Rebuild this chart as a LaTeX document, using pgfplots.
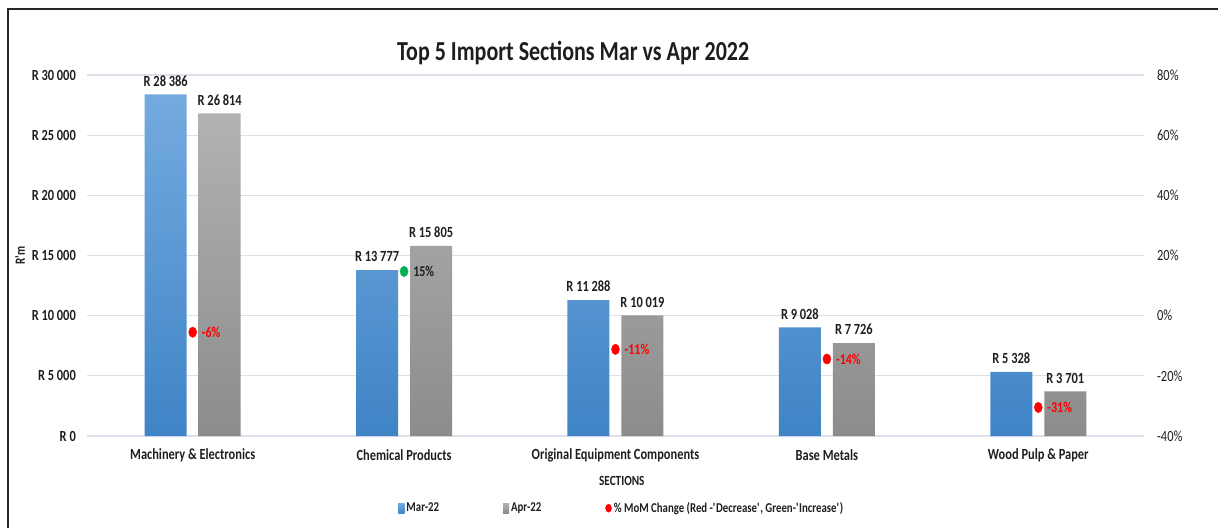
\documentclass[border=0pt]{standalone}
\usepackage{fontspec}
\setmainfont{Carlito}[FakeStretch=0.8]
\usepackage{pgfplots}
\pgfplotsset{compat=1.18}
\definecolor{marTop}{HTML}{74AADF}
\definecolor{marBot}{HTML}{3F84C6}
\definecolor{aprTop}{HTML}{B2B2B2}
\definecolor{aprBot}{HTML}{8C8C8C}
\definecolor{gridc}{HTML}{DCE1E9}
\definecolor{ink}{HTML}{1E1E1E}
\definecolor{upgreen}{HTML}{00B050}
\newcommand\fs[1]{\fontsize{#1}{#1}\selectfont}

\pgfplotsset{
  frame/.style={
    at={(0,0)}, anchor=south west, scale only axis,
    width=1057pt, height=361pt,
    xmin=-0.5, xmax=4.5,
  }
}

\begin{document}
\begin{tikzpicture}
\useasboundingbox (-87pt,-92pt) rectangle (1131pt,436pt);

\begin{axis}[frame, clip=false,
  ymin=0, ymax=30000, scaled y ticks=false,
  ybar=12pt, bar width=42pt,
  axis line style={draw=none}, major tick length=0pt,
  ymajorgrids, grid style={gridc, line width=1.2pt},
  xtick={0,1,2,3,4},
  xticklabels={Machinery \& Electronics, Chemical Products, Original Equipment Components, Base Metals, Wood Pulp \& Paper},
  ytick={0,5000,10000,15000,20000,25000,30000},
  yticklabels={R 0, R 5 000, R 10 000, R 15 000, R 20 000, R 25 000, R 30 000},
  tick label style={font=\fs{15.5}\bfseries, text=ink},
  yticklabel style={anchor=east, inner sep=0pt, xshift=-11pt},
  xticklabel style={anchor=center, inner sep=0pt, yshift=-19pt},
  ylabel={R\textquotesingle m}, xlabel={SECTIONS},
  every axis y label/.append style={at={(axis description cs:-0.0634,0.5)}, anchor=center, font=\fs{14}\bfseries, text=ink},
  every axis x label/.append style={at={(axis description cs:0.506,-0.125)}, anchor=center, font=\fs{14}\bfseries, text=ink},
  nodes near coords, point meta=explicit symbolic,
  nodes near coords style={font=\fs{15.5}\bfseries, text=ink, anchor=south, inner sep=0pt, yshift=8pt},
  legend style={at={(axis description cs:0.506,-0.2)}, anchor=center, draw=none,
    font=\fs{13.5}\bfseries, text=ink,
    /tikz/every even column/.append style={column sep=62pt}},
  legend columns=3,
]
\addplot[draw=none, top color=marTop, bottom color=marBot,
  legend image code/.code={\fill[marBot!85!white] (0pt,-5pt) rectangle (6pt,5pt);}]
  coordinates {(0,28386) [R 28 386] (1,13777) [R 13 777] (2,11288) [R 11 288] (3,9028) [R 9 028] (4,5328) [R 5 328]};
\addplot[draw=none, top color=aprTop, bottom color=aprBot,
  legend image code/.code={\fill[aprTop] (0pt,-5pt) rectangle (6pt,5pt);}]
  coordinates {(0,26814) [R 26 814] (1,15805) [R 15 805] (2,10019) [R 10 019] (3,7726) [R 7 726] (4,3701) [R 3 701]};
\addlegendimage{legend image code/.code={\fill[red] (3pt,0pt) ellipse (3pt and 4pt);}}
\legend{Mar-22, Apr-22, {\% MoM Change (Red -\textquotesingle Decrease\textquotesingle, Green-\textquotesingle Increase\textquotesingle)}}
\node[font=\fs{27.5}\bfseries, text=ink] at (axis description cs:0.46,1.06) {Top 5 Import Sections Mar vs Apr 2022};
\end{axis}

\begin{axis}[frame,
  ymin=-40, ymax=80,
  axis x line=none, axis y line*=right,
  axis line style={draw=none}, major tick length=0pt,
  ytick={-40,-20,0,20,40,60,80},
  yticklabels={-40\%, -20\%, 0\%, 20\%, 40\%, 60\%, 80\%},
  yticklabel style={font=\fs{15.5}, text=ink, anchor=west, inner sep=0pt, xshift=13pt},
  nodes near coords, point meta=explicit symbolic,
  nodes near coords style={font=\fs{15}\bfseries, anchor=west, inner sep=0pt, xshift=9pt},
]
\addplot[only marks, mark=*, mark size=4pt, mark options={fill=red, draw=red, yscale=1.3},
  nodes near coords style={text=red}]
  coordinates {(0,-5.5) [-6\%] (2,-11.2) [-11\%] (3,-14.4) [-14\%] (4,-30.5) [-31\%]};
\addplot[only marks, mark=*, mark size=4pt, mark options={fill=upgreen, draw=upgreen, yscale=1.3},
  nodes near coords style={text=ink}]
  coordinates {(1,14.7) [15\%]};
\end{axis}

\draw[line width=2pt, black!85] (-79pt,-92pt) -- (-79pt,427pt) -- (1131pt,427pt);
\end{tikzpicture}
\end{document}
